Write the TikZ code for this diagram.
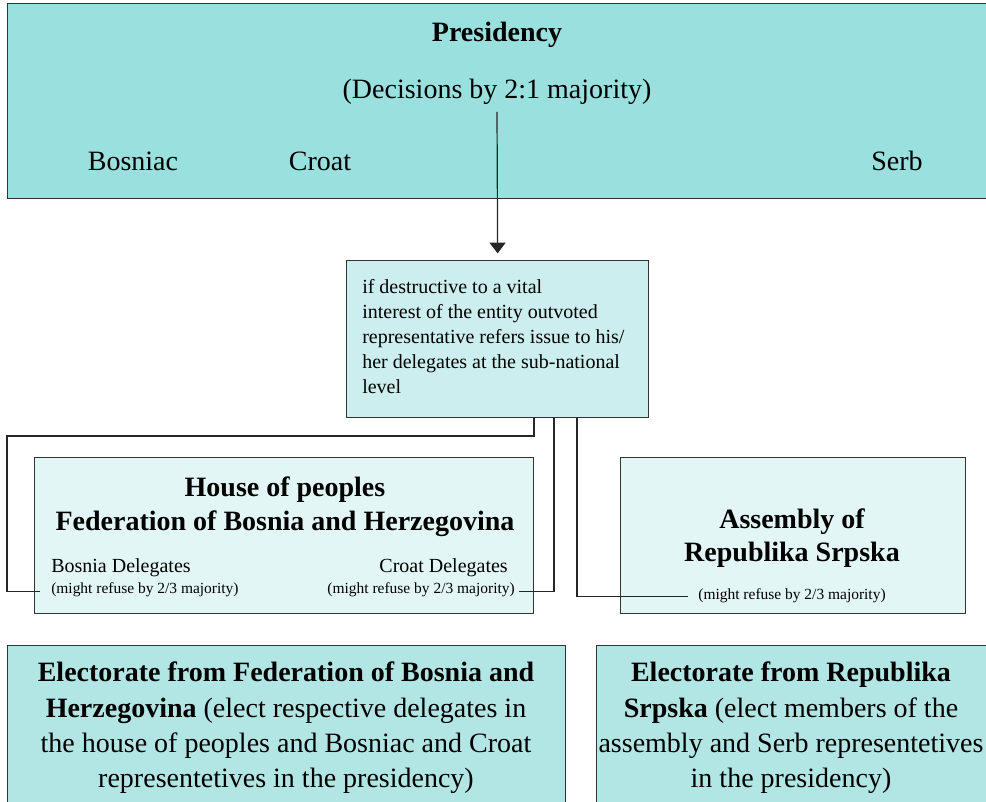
\documentclass[tikz,border=0pt]{standalone}
\usepackage{fontspec}
\setmainfont{Liberation Serif}
\usetikzlibrary{positioning,arrows.meta}

\definecolor{presfill}{HTML}{9AE0DE}
\definecolor{vetofill}{HTML}{CCEEEE}
\definecolor{housefill}{HTML}{E3F6F6}
\definecolor{elecfill}{HTML}{B2E6E4}

\tikzset{
  box/.style={draw=black!80, line width=1pt, inner sep=0pt, anchor=north west},
  txt/.style={inner sep=0pt},
  bigtxt/.style={txt, font=\fontsize{21}{26.5}\selectfont},
  bigbold/.style={txt, font=\fontsize{21}{25.5}\selectfont\bfseries},
  midtxt/.style={txt, font=\fontsize{15}{18.75}\selectfont},
  smalltxt/.style={txt, font=\fontsize{11.6}{14}\selectfont},
  link/.style={draw=black!85, line width=0.9pt},
}

\begin{document}
\begin{tikzpicture}[x=0.75pt, y=-0.75pt]

  \useasboundingbox (0,0) rectangle (986,802);

  % presidency
  \node[box, fill=presfill, minimum width=741pt, minimum height=146.25pt] (pres) at (7,3) {};
  \node[bigbold, anchor=base] (prestitle) at (497,42) {Presidency};
  \node[bigtxt, anchor=base] (presrule) at (497,99) {(Decisions by 2:1 majority)};
  \node[bigtxt, anchor=base] (bosniac) at (133,171) {Bosniac};
  \node[bigtxt, anchor=base] (croat) at (320,171) {Croat};
  \node[bigtxt, anchor=base] (serb) at (897,171) {Serb};
  \coordinate (presfoot) at (497,112);

  % vital interest box
  \node[box, fill=vetofill, minimum width=226.5pt, minimum height=117.75pt] (veto) at (346,260) {};
  \node[midtxt, anchor=north west, align=left] (vetotext) at (362,279)
    {if destructive to a vital\\
     interest of the entity outvoted\\
     representative refers issue to his/\\
     her delegates at the sub-national\\
     level};

  \draw[link, -{Triangle[length=8pt,width=12pt]}, shorten >=5pt] (presfoot) -- (veto.north);

  % house of peoples
  \node[box, fill=housefill, minimum width=374.25pt, minimum height=117pt] (house) at (34,457) {};
  \node[bigbold, align=center] (housetitle) at (285,507)
    {House of peoples\\Federation of Bosnia and Herzegovina};
  \node[midtxt, anchor=base west] (bosdel) at (51,572) {Bosnia Delegates};
  \node[smalltxt, anchor=base west] (bosref) at (51,593) {(might refuse by 2/3 majority)};
  \node[midtxt, anchor=base east] (crodel) at (508,572) {Croat Delegates};
  \node[smalltxt, anchor=base east] (croref) at (515,593) {(might refuse by 2/3 majority)};

  % assembly
  \node[box, fill=housefill, minimum width=258.75pt, minimum height=117pt] (assembly) at (620,457) {};
  \node[bigbold, align=center, font=\fontsize{21}{24.75}\selectfont\bfseries] (asmtitle) at (792,538)
    {Assembly of\\Republika Srpska};
  \node[smalltxt, anchor=base] (asmref) at (792,599) {(might refuse by 2/3 majority)};

  % referral lines
  \coordinate (bendleft) at (7,436);
  \draw[link, shorten >=8pt] ([xshift=141pt]veto.south west) |- (bendleft) |- ([yshift=-2pt]bosref.west);
  \draw[link, shorten >=3pt] ([xshift=156pt]veto.south west) |- ([yshift=-2pt]croref.east);
  \draw[link, shorten >=7.5pt] ([xshift=173.25pt]veto.south west) |- ([yshift=-1pt]asmref.west);

  % electorates
  \node[box, fill=elecfill, minimum width=418.5pt, minimum height=121.5pt] (elecfed) at (7,645) {};
  \node[bigtxt, align=center] (elecfedtext) at (286,728)
    {\textbf{Electorate from Federation of Bosnia and}\\
     \textbf{Herzegovina} (elect respective delegates in\\
     the house of peoples and Bosniac and Croat\\
     representetives in the presidency)};
  \node[box, fill=elecfill, minimum width=294pt, minimum height=121.5pt] (elecrs) at (596,645) {};
  \node[bigtxt, align=center] (elecrstext) at (791,728)
    {\textbf{Electorate from Republika}\\
     \textbf{Srpska} (elect members of the\\
     assembly and Serb representetives\\
     in the presidency)};

\end{tikzpicture}
\end{document}
